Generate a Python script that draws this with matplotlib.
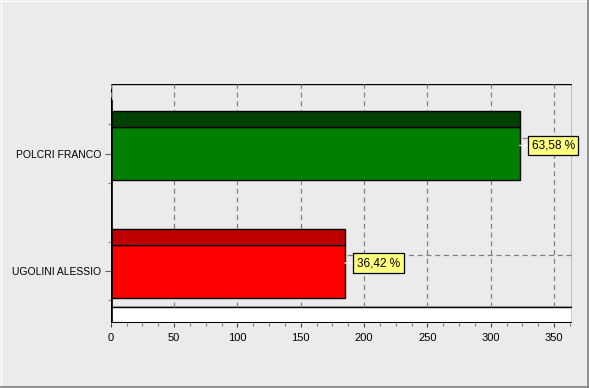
import matplotlib
matplotlib.use("Agg")
import matplotlib.pyplot as plt
import matplotlib.ticker as mticker
from matplotlib.patches import Rectangle
from matplotlib.lines import Line2D

# data
names = ["UGOLINI ALESSIO", "POLCRI FRANCO"]
votes = [185, 323]
pct_labels = ["36,42 %", "63,58 %"]
front_colors = ["#FF0000", "#008000"]
top_colors = ["#BF0000", "#004000"]
x_ticks = [0, 50, 100, 150, 200, 250, 300, 350]

BG = "#EBEBEB"
plt.rcParams["font.family"] = ["Liberation Sans", "DejaVu Sans"]

W, H = 589, 388
fig = plt.figure(figsize=(W / 100, H / 100), dpi=100, facecolor=BG)

# plot area in pixels
x0, x1 = 110.7, 571.7
y_top, y_bot = 84, 323
ax = fig.add_axes([x0 / W, (H - y_bot) / H, (x1 - x0) / W, (y_bot - y_top) / H])
ax.set_facecolor(BG)

px_per_unit = 1.2667
xmax = (x1 - x0) / px_per_unit
ax.set_xlim(0, xmax)

# y units: one category step = 117.5 px, red front centre at y=271 px
step = 117.5
ylo = -(y_bot - 271) / step
yhi = (271 - y_top) / step
ax.set_ylim(ylo, yhi)

depth = 16 / step          # 3D depth, drawn straight up
bar_h = 53 / step
wall_bot = ylo + depth

for s in ax.spines.values():
    s.set_visible(False)

# back wall + floor
ax.add_patch(Rectangle((0, wall_bot), xmax, yhi - wall_bot, facecolor=BG,
                       edgecolor="black", linewidth=1.0, zorder=0.5))
ax.add_patch(Rectangle((0, ylo), xmax, depth, facecolor="white",
                       edgecolor="black", linewidth=1.0, zorder=0.6))

# grid on back wall
for xv in x_ticks:
    ax.add_line(Line2D([xv, xv], [wall_bot, yhi], color="#808080",
                       linewidth=0.9, linestyle=(0, (4, 3)), zorder=0.7))
for i in range(len(names)):
    ax.add_line(Line2D([0, xmax], [i + depth, i + depth], color="#808080",
                       linewidth=0.9, linestyle=(0, (4, 3)), zorder=0.7))

# axis lines (left wall edge and bottom)
ax.add_line(Line2D([0, 0], [ylo, yhi - depth], color="black", linewidth=2.6,
                   zorder=3, solid_capstyle="butt"))
ax.add_line(Line2D([0, xmax], [ylo, ylo], color="black", linewidth=2.2,
                   zorder=3, solid_capstyle="butt"))

# bars: front face + top face
ypos = list(range(len(names)))
ax.barh(ypos, votes, height=bar_h, color=front_colors, edgecolor="black",
        linewidth=1.0, zorder=2)
ax.barh([y + bar_h / 2 + depth / 2 for y in ypos], votes, height=depth,
        color=top_colors, edgecolor="black", linewidth=1.0, zorder=2)

# value labels (anchored at mid-depth of the bar end)
for y, v, lab in zip(ypos, votes, pct_labels):
    ax.annotate(lab, xy=(v, y + depth / 2), xytext=(8.5, 0),
                textcoords="offset points", ha="left", va="center",
                fontsize=8.5, zorder=5,
                bbox=dict(boxstyle="square,pad=0.3", facecolor="#FFFF80",
                          edgecolor="black", linewidth=0.9),
                arrowprops=dict(arrowstyle="-", color="white", linewidth=1.0,
                                shrinkA=0, shrinkB=0))

# ticks
ax.set_xticks(x_ticks)
ax.xaxis.set_minor_locator(mticker.MultipleLocator(12.5))
ax.tick_params(axis="x", which="major", direction="out", length=3, width=0.8,
               color="#404040", labelsize=8, pad=4)
ax.tick_params(axis="x", which="minor", direction="out", length=2, width=0.8,
               color="#808080")
ax.set_yticks(ypos)
ax.set_yticklabels(names)
ax.yaxis.set_minor_locator(mticker.FixedLocator([-0.25, 0.25, 0.75, 1.25]))
ax.tick_params(axis="y", which="major", direction="out", length=4, width=0.8,
               color="#606060", labelsize=7.5, pad=3)
ax.tick_params(axis="y", which="minor", direction="out", length=2, width=0.8,
               color="#808080")

# window-style frame
fig.add_artist(Line2D([0, 1], [1 - 0.5 / H, 1 - 0.5 / H], color="white",
                      linewidth=1.0, transform=fig.transFigure))
fig.add_artist(Line2D([0.5 / W, 0.5 / W], [0, 1], color="white",
                      linewidth=1.0, transform=fig.transFigure))
fig.add_artist(Line2D([1 - 1.5 / W, 1 - 1.5 / W], [0, 1], color="#808080",
                      linewidth=1.2, transform=fig.transFigure))
fig.add_artist(Line2D([0, 1], [1.5 / H, 1.5 / H], color="#808080",
                      linewidth=1.2, transform=fig.transFigure))

fig.savefig("out.png", dpi=100, facecolor=BG)
